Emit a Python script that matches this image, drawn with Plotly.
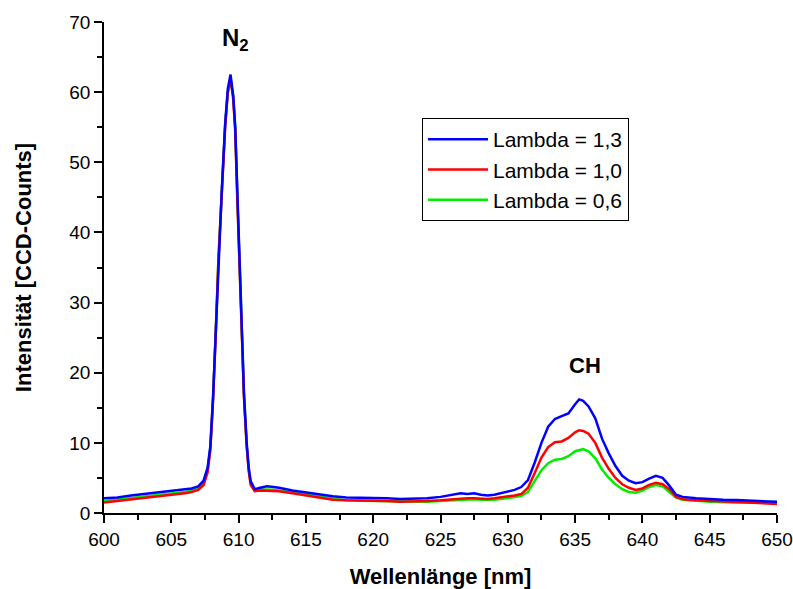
import plotly.graph_objects as go

wavelength = [600, 601, 602, 603, 604, 605, 606, 606.5, 607, 607.4, 607.7, 607.9, 608.1, 608.3, 608.5,
              608.75, 609.0, 609.2, 609.4, 609.6, 609.75, 609.9, 610.05, 610.2, 610.4, 610.6, 610.75,
              610.9, 611.2, 611.6, 612.1, 612.6, 613, 614, 615, 616, 617, 618, 619, 620, 621, 622, 623,
              624, 625, 626, 626.5, 627, 627.5, 628, 628.5, 629, 629.5, 630, 630.5, 631, 631.5, 632,
              632.5, 633, 633.5, 634, 634.5, 635, 635.3, 635.6, 636, 636.5, 637, 637.5, 638, 638.5,
              639, 639.5, 640, 640.5, 641, 641.5, 642, 642.5, 643, 644, 645, 646, 647, 648, 649, 650]

lambda_13 = [2.1, 2.2, 2.5, 2.7, 2.9, 3.1, 3.3, 3.5, 3.8, 4.6, 6.5, 9.5, 16.5, 26, 36.5,
             46, 55.5, 60.5, 62.5, 59.5, 55, 45.5, 36, 26.5, 17, 10, 6.5,
             4.5, 3.4, 3.6, 3.8, 3.7, 3.6, 3.2, 2.9, 2.6, 2.4, 2.2, 2.2, 2.2, 2.1, 2.0, 2.0,
             2.1, 2.3, 2.6, 2.8, 2.7, 2.8, 2.6, 2.5, 2.6, 2.8, 3.0, 3.3, 3.7, 4.7, 7.2,
             10.0, 12.3, 13.4, 13.8, 14.2, 15.5, 16.2, 16.0, 15.2, 13.5, 10.6, 8.5, 6.7, 5.3,
             4.6, 4.25, 4.4, 4.9, 5.3, 5.0, 3.9, 2.6, 2.3, 2.1, 1.95, 1.9, 1.85, 1.8, 1.7, 1.6]

lambda_10 = [1.5, 1.7, 1.9, 2.1, 2.3, 2.5, 2.8, 3.0, 3.3, 4.0, 5.8, 9.0, 16, 25.5, 36,
             45.5, 55, 60, 62.0, 59, 54.5, 45, 35.5, 26, 16.5, 9.5, 6,
             4, 3.1, 3.2, 3.2, 3.1, 3.1, 2.8, 2.5, 2.2, 1.9, 1.8, 1.8, 1.75, 1.7, 1.6, 1.6,
             1.7, 1.8, 2.0, 2.1, 2.1, 2.1, 2.0, 2.0, 2.1, 2.2, 2.3, 2.5, 2.7, 3.6, 5.7,
             7.9, 9.4, 10.1, 10.2, 10.7, 11.5, 11.8, 11.7, 11.3, 10.0, 7.9, 6.3, 5.0, 4.1,
             3.6, 3.3, 3.5, 4.0, 4.3, 4.1, 3.4, 2.3, 1.95, 1.8, 1.7, 1.6, 1.5, 1.45, 1.35, 1.3]

lambda_06 = [1.7, 1.9, 2.1, 2.3, 2.5, 2.7, 3.0, 3.2, 3.5, 4.3, 6.2, 9.3, 16.2, 25.8, 36.2,
             45.7, 55.2, 60, 61.5, 59.5, 55, 45.5, 36, 26.3, 16.8, 9.8, 6.2,
             4.2, 3.2, 3.4, 3.4, 3.3, 3.2, 2.9, 2.6, 2.3, 2.0, 1.8, 1.75, 1.7, 1.65, 1.6, 1.55,
             1.6, 1.7, 1.8, 1.9, 1.9, 1.95, 1.9, 1.85, 1.9, 2.0, 2.1, 2.2, 2.4, 3.0, 4.5,
             6.1, 7.1, 7.6, 7.7, 8.1, 8.8, 9.0, 9.1, 8.8, 7.8, 6.2, 5.0, 4.1, 3.4,
             3.0, 2.9, 3.2, 3.7, 4.0, 3.8, 3.0, 2.2, 1.9, 1.7, 1.6, 1.55, 1.5, 1.5, 1.45, 1.45]

series_names = ["Lambda = 1,3", "Lambda = 1,0", "Lambda = 0,6"]
series_colors = ["#0000ff", "#ff0000", "#00ee00"]

x_ticks = [600, 605, 610, 615, 620, 625, 630, 635, 640, 645, 650]
y_ticks = [0, 10, 20, 30, 40, 50, 60, 70]

fig = go.Figure()
# draw green first, blue on top
for name, vals, col in reversed(list(zip(series_names, [lambda_13, lambda_10, lambda_06], series_colors))):
    fig.add_trace(go.Scatter(x=wavelength, y=vals, mode="lines", name=name,
                             line=dict(color=col, width=2.5), cliponaxis=False))

font_family = "Liberation Sans, Arial, sans-serif"
axis_common = dict(showline=True, linecolor="black", linewidth=1.5, ticks="outside",
                   ticklen=8, tickwidth=1.5, tickcolor="black", showgrid=False, zeroline=False,
                   tickfont=dict(family=font_family, size=19, color="black"),
                   mirror=False, automargin=False, ticklabeloverflow="allow")

fig.update_layout(
    width=793, height=589,
    margin=dict(l=104, r=16, t=22, b=76, autoexpand=False),
    paper_bgcolor="white", plot_bgcolor="white",
    font=dict(family=font_family, color="black"),
    showlegend=True,
    legend=dict(x=0.4725, y=0.8045, xanchor="left", yanchor="top", traceorder="reversed",
                bgcolor="white", bordercolor="black", borderwidth=1,
                font=dict(family=font_family, size=21, color="black"),
                itemwidth=60),
    xaxis=dict(range=[600, 650], tickvals=x_ticks,
               minor=dict(dtick=2.5, ticks="outside", ticklen=5, tickwidth=1.5, tickcolor="black"),
               title=dict(text="<b>Wellenlänge [nm]</b>",
                          font=dict(family=font_family, size=22, color="black"), standoff=39),
               **axis_common),
    yaxis=dict(range=[0, 70], tickvals=y_ticks,
               minor=dict(dtick=5, ticks="outside", ticklen=5, tickwidth=1.5, tickcolor="black"),
               title=dict(text="<b>Intensität [CCD-Counts]</b>",
                          font=dict(family=font_family, size=22, color="black"), standoff=32),
               **axis_common),
    annotations=[
        dict(x=609.8, y=67.5, xref="x", yref="y", text="<b>N<sub>2</sub></b>", showarrow=False,
             font=dict(family=font_family, size=24, color="black")),
        dict(x=635.7, y=21.1, xref="x", yref="y", text="<b>CH</b>", showarrow=False,
             font=dict(family=font_family, size=22, color="black")),
    ],
)

# remove the browser's default 8px page margin so the figure fills the window exactly
fig.write_html("out.html", config={"displayModeBar": False},
               post_script="document.body.style.margin='0';document.body.style.overflow='hidden';")
